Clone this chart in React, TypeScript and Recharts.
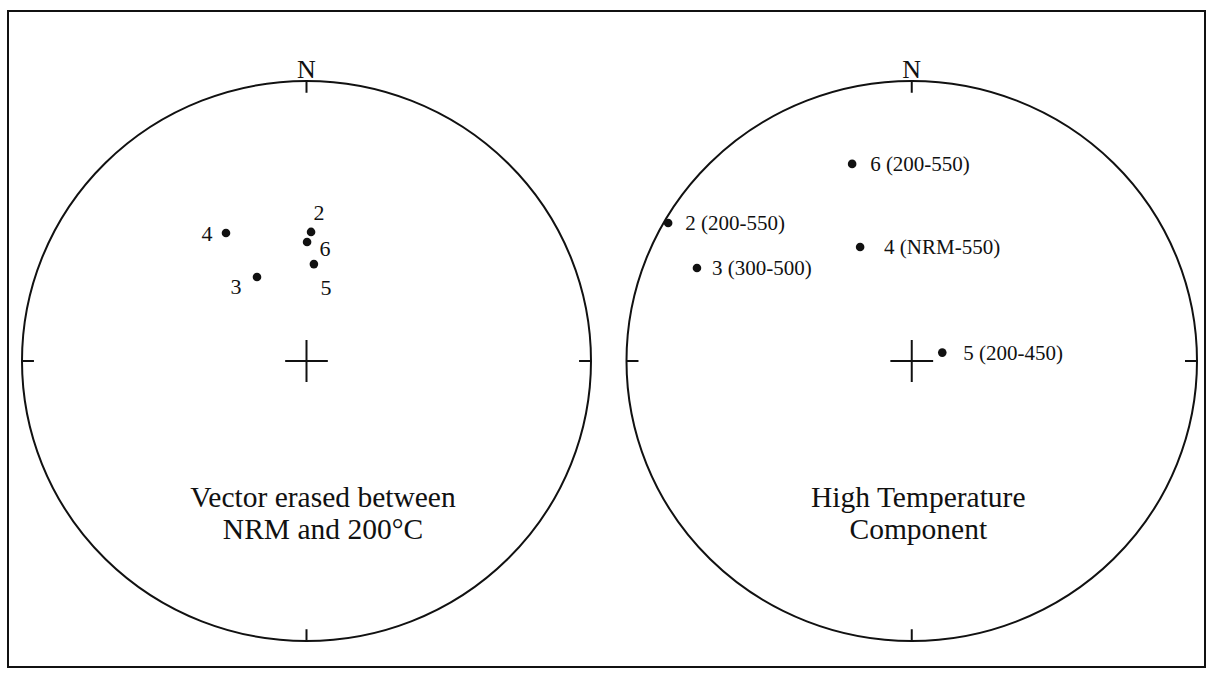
import React from "react";
import { ScatterChart, Scatter, XAxis, YAxis, ReferenceLine, ReferenceDot } from "recharts";

// Equal-area projection coordinates (unit circle, east / north)
const nrmSites = ["2", "3", "4", "5", "6"];
const nrmEast = [0.016, -0.174, -0.283, 0.026, 0.002];
const nrmNorth = [0.461, 0.3, 0.457, 0.346, 0.425];

const htcSites = ["2 (200-550)", "3 (300-500)", "4 (NRM-550)", "5 (200-450)", "6 (200-550)"];
const htcEast = [-0.854, -0.753, -0.181, 0.107, -0.209];
const htcNorth = [0.493, 0.332, 0.407, 0.03, 0.704];

const nrmTitle = ["Vector erased between", "NRM and 200°C"];
const htcTitle = ["High Temperature", "Component"];

// label placement relative to each dot (px)
const nrmLabelOffset: Record<string, [number, number, string]> = {
  "2": [8, -19, "middle"],
  "3": [-21, 9, "middle"],
  "4": [-19, 0, "middle"],
  "5": [12, 23, "middle"],
  "6": [18, 6, "middle"],
};
const htcLabelOffset: Record<string, [number, number, string]> = {
  "2 (200-550)": [17, 0, "start"],
  "3 (300-500)": [15, 0, "start"],
  "4 (NRM-550)": [24, 0, "start"],
  "5 (200-450)": [21, 0, "start"],
  "6 (200-550)": [18, 0, "start"],
};

const INK = "#111";
const SERIF = "'Liberation Serif', 'Times New Roman', serif";
const TICK = 0.042;
const CROSS = 0.075;

type NetProps = {
  left: number;
  width: number;
  margin: { top: number; right: number; bottom: number; left: number };
  sites: string[];
  east: number[];
  north: number[];
  offsets: Record<string, [number, number, string]>;
  labelSize: number;
  title: string[];
  titleX: number;
};

function Stereonet({ left, width, margin, sites, east, north, offsets, labelSize, title, titleX }: NetProps) {
  const height = 673;
  const rx = (width - margin.left - margin.right) / 2;
  const ry = (height - margin.top - margin.bottom) / 2;
  const rows = sites.map((s, i) => ({ site: s, x: east[i], y: north[i] }));

  return (
    <div style={{ position: "absolute", left, top: 0 }}>
      <ScatterChart width={width} height={height} margin={margin}>
        <XAxis type="number" dataKey="x" domain={[-1, 1]} hide />
        <YAxis type="number" dataKey="y" domain={[-1, 1]} hide />
        {/* primitive circle */}
        <ReferenceDot
          x={0}
          y={0}
          r={1}
          shape={(p: any) => (
            <ellipse cx={p.cx} cy={p.cy} rx={rx} ry={ry} fill="none" stroke={INK} strokeWidth={2} />
          )}
        />
        <ReferenceLine segment={[{ x: 0, y: 1 }, { x: 0, y: 1 - TICK }]} stroke={INK} strokeWidth={2} />
        <ReferenceLine segment={[{ x: 0, y: -1 }, { x: 0, y: -1 + TICK }]} stroke={INK} strokeWidth={2} />
        <ReferenceLine segment={[{ x: -1, y: 0 }, { x: -1 + TICK, y: 0 }]} stroke={INK} strokeWidth={2} />
        <ReferenceLine segment={[{ x: 1, y: 0 }, { x: 1 - TICK, y: 0 }]} stroke={INK} strokeWidth={2} />
        {/* centre cross */}
        <ReferenceLine segment={[{ x: -CROSS, y: 0 }, { x: CROSS, y: 0 }]} stroke={INK} strokeWidth={2} />
        <ReferenceLine segment={[{ x: 0, y: -CROSS }, { x: 0, y: CROSS }]} stroke={INK} strokeWidth={2} />
        <ReferenceDot
          x={0}
          y={1}
          r={1}
          shape={(p: any) => (
            <text x={p.cx} y={p.cy - 3} textAnchor="middle" fontFamily={SERIF} fontSize={26} fill={INK}>
              N
            </text>
          )}
        />
        <ReferenceDot
          x={titleX}
          y={-0.489}
          r={1}
          shape={(p: any) => (
            <text x={p.cx} y={p.cy} textAnchor="middle" fontFamily={SERIF} fontSize={29.5} fill={INK}>
              <tspan x={p.cx} dy={9}>{title[0]}</tspan>
              <tspan x={p.cx} dy={32}>{title[1]}</tspan>
            </text>
          )}
        />
        <Scatter
          data={rows}
          isAnimationActive={false}
          shape={(p: any) => {
            const [dx, dy, anchor] = offsets[p.payload.site];
            return (
              <g>
                <circle cx={p.cx} cy={p.cy} r={4.3} fill={INK} />
                <text
                  x={p.cx + dx}
                  y={p.cy + dy}
                  dominantBaseline="central"
                  textAnchor={anchor as any}
                  fontFamily={SERIF}
                  fontSize={labelSize}
                  fill={INK}
                >
                  {p.payload.site}
                </text>
              </g>
            );
          }}
        />
      </ScatterChart>
    </div>
  );
}

export default function App() {
  return (
    <div style={{ position: "absolute", left: 0, top: 0, width: 1208, height: 673, background: "#fff" }}>
      <div
        style={{
          position: "absolute",
          left: 7,
          top: 10,
          width: 1199,
          height: 658,
          border: `2px solid ${INK}`,
          boxSizing: "border-box",
        }}
      />
      <Stereonet
        left={0}
        width={600}
        margin={{ top: 81, right: 9, bottom: 32, left: 22 }}
        sites={nrmSites}
        east={nrmEast}
        north={nrmNorth}
        offsets={nrmLabelOffset}
        labelSize={22}
        title={nrmTitle}
        titleX={0.058}
      />
      <Stereonet
        left={604}
        width={604}
        margin={{ top: 81, right: 11, bottom: 32, left: 22.5 }}
        sites={htcSites}
        east={htcEast}
        north={htcNorth}
        offsets={htcLabelOffset}
        labelSize={21}
        title={htcTitle}
        titleX={0.023}
      />
    </div>
  );
}
